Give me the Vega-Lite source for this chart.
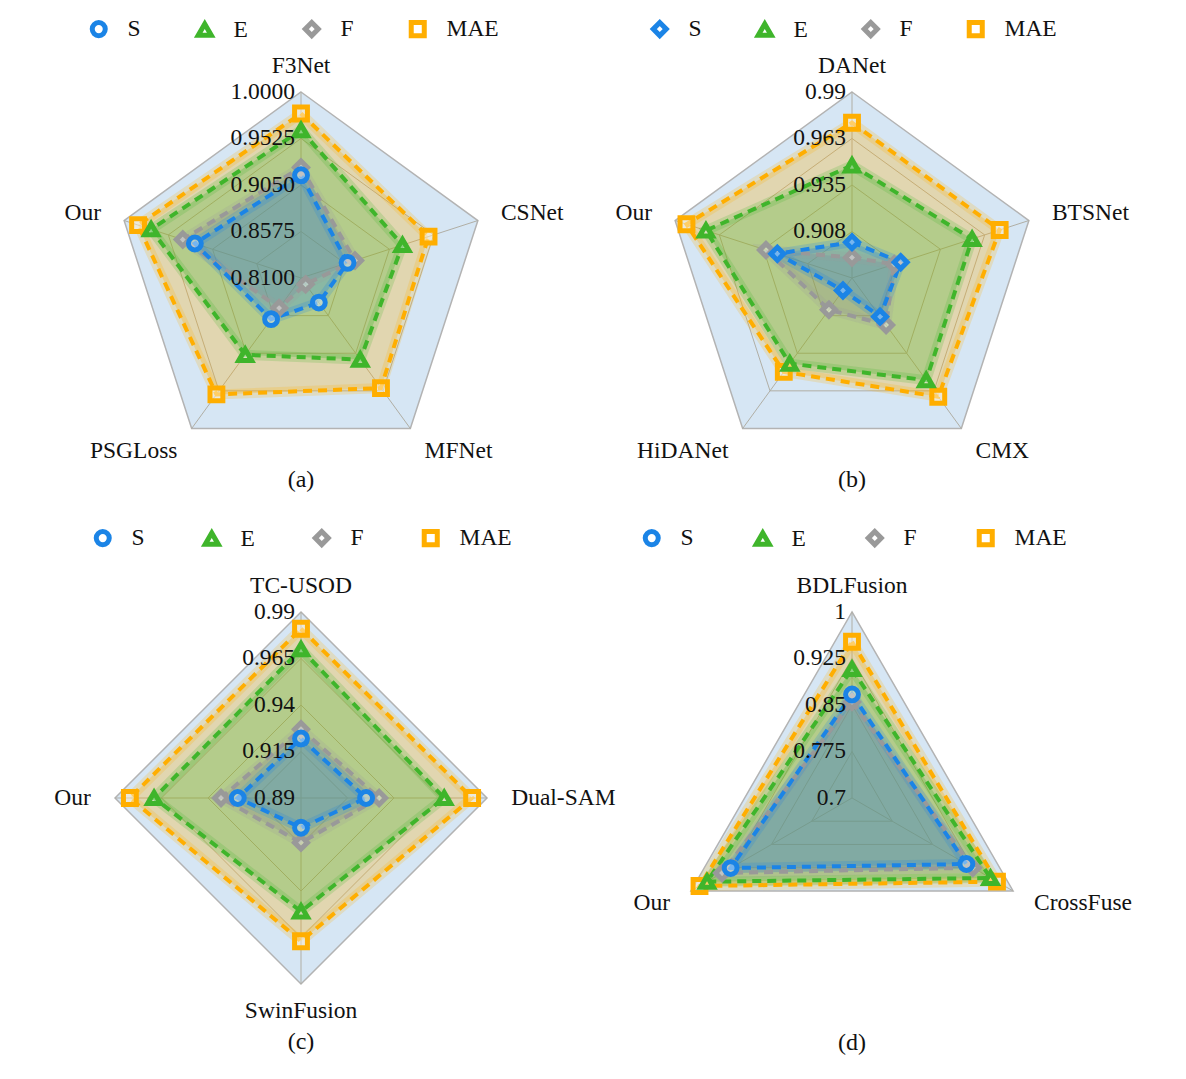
{
  "$schema": "https://vega.github.io/schema/vega-lite/v6.json",
  "padding": {"left": 25.5, "top": 16, "right": 0, "bottom": 0},
  "autosize": {"type": "pad"},
  "background": "white",
  "config": {
    "view": {"stroke": null},
    "title": {"font": "Liberation Serif", "fontSize": 24, "fontWeight": "normal", "color": "#111"},
    "legend": {"labelFont": "Liberation Serif", "labelFontSize": 23.5, "labelColor": "#111", "symbolStrokeWidth": 5, "symbolSize": 170, "labelOffset": 17}
  },
  "datasets": {
    "radar": [
      {"panel": "a", "axis": "F3Net", "i": 0, "S": 0.915, "E": 0.961, "F": 0.923, "MAE": 0.978},
      {"panel": "a", "axis": "CSNet", "i": 1, "S": 0.860, "E": 0.919, "F": 0.868, "MAE": 0.947},
      {"panel": "a", "axis": "MFNet", "i": 2, "S": 0.841, "E": 0.913, "F": 0.818, "MAE": 0.949},
      {"panel": "a", "axis": "PSGLoss", "i": 3, "S": 0.862, "E": 0.907, "F": 0.848, "MAE": 0.957},
      {"panel": "a", "axis": "Our", "i": 4, "S": 0.924, "E": 0.971, "F": 0.937, "MAE": 0.985},
      {"panel": "b", "axis": "DANet", "i": 0, "S": 0.902, "E": 0.947, "F": 0.893, "MAE": 0.972},
      {"panel": "b", "axis": "BTSNet", "i": 1, "S": 0.911, "E": 0.955, "F": 0.907, "MAE": 0.972},
      {"panel": "b", "axis": "CMX", "i": 2, "S": 0.909, "E": 0.955, "F": 0.915, "MAE": 0.967},
      {"panel": "b", "axis": "HiDANet", "i": 3, "S": 0.890, "E": 0.943, "F": 0.904, "MAE": 0.949},
      {"panel": "b", "axis": "Our", "i": 4, "S": 0.927, "E": 0.971, "F": 0.934, "MAE": 0.983},
      {"panel": "c", "axis": "TC-USOD", "i": 0, "S": 0.922, "E": 0.970, "F": 0.927, "MAE": 0.981},
      {"panel": "c", "axis": "Dual-SAM", "i": 1, "S": 0.925, "E": 0.967, "F": 0.932, "MAE": 0.982},
      {"panel": "c", "axis": "SwinFusion", "i": 2, "S": 0.906, "E": 0.951, "F": 0.914, "MAE": 0.967},
      {"panel": "c", "axis": "Our", "i": 3, "S": 0.924, "E": 0.969, "F": 0.933, "MAE": 0.982},
      {"panel": "d", "axis": "BDLFusion", "i": 0, "S": 0.867, "E": 0.908, "F": 0.855, "MAE": 0.952},
      {"panel": "d", "axis": "CrossFuse", "i": 1, "S": 0.913, "E": 0.958, "F": 0.925, "MAE": 0.970},
      {"panel": "d", "axis": "Our", "i": 2, "S": 0.926, "E": 0.970, "F": 0.942, "MAE": 0.984}
    ],
    "ticks": [
      {"panel": "a", "min": 0.81, "max": 1.0, "tick": [0.81, 0.8575, 0.905, 0.9525, 1.0], "label": ["0.8100", "0.8575", "0.9050", "0.9525", "1.0000"]},
      {"panel": "b", "min": 0.881, "max": 0.99, "tick": [0.881, 0.90825, 0.9355, 0.96275, 0.99], "label": ["", "0.908", "0.935", "0.963", "0.99"]},
      {"panel": "c", "min": 0.89, "max": 0.99, "tick": [0.89, 0.915, 0.94, 0.965, 0.99], "label": ["0.89", "0.915", "0.94", "0.965", "0.99"]},
      {"panel": "d", "min": 0.7, "max": 1.0, "tick": [0.7, 0.775, 0.85, 0.925, 1.0], "label": ["0.7", "0.775", "0.85", "0.925", "1"]}
    ]
  },
  "columns": 2,
  "spacing": {"row": 80, "column": 0},
  "bounds": "flush",
  "resolve": {"scale": {"color": "independent", "shape": "independent", "fill": "independent", "stroke": "independent"}},
  "concat": [
    {
      "width": 551, "height": 440,
      "title": {"text": "(a)", "orient": "bottom", "offset": 6},
      "data": {"name": "radar"},
      "transform": [
        {"filter": "datum.panel === 'a'"},
        {"joinaggregate": [{"op": "count", "as": "n"}]},
        {"lookup": "panel", "from": {"data": {"name": "ticks"}, "key": "panel", "fields": ["min", "max", "tick", "label"]}},
        {"calculate": "PI/2 - 2*PI*datum.i/datum.n", "as": "ang"}
      ],
      "layer": [
        {"transform": [{"calculate": "cos(datum.ang)", "as": "vx"}, {"calculate": "sin(datum.ang)", "as": "vy"}],
         "mark": {"type": "line", "interpolate": "linear-closed", "fill": "#d6e6f4", "stroke": "#b3b3b3", "strokeWidth": 1.5},
         "encoding": {"x": {"field": "vx", "type": "quantitative", "scale": {"domain": [-1.4812, 1.4812], "nice": false, "zero": false}, "axis": null}, "y": {"field": "vy", "type": "quantitative", "scale": {"domain": [-0.957, 1.4086], "nice": false, "zero": false}, "axis": null}, "order": {"field": "i"}}},
        {"transform": [{"flatten": ["tick", "label"]}, {"filter": "datum.tick > datum.min + 1e-9 && datum.tick < datum.max - 1e-9"}, {"calculate": "(datum.tick-datum.min)/(datum.max-datum.min)", "as": "r"}, {"calculate": "datum.r*cos(datum.ang)", "as": "vx"}, {"calculate": "datum.r*sin(datum.ang)", "as": "vy"}],
         "mark": {"type": "line", "interpolate": "linear-closed", "stroke": "#b0aea4", "strokeWidth": 1},
         "encoding": {"x": {"field": "vx", "type": "quantitative", "axis": null}, "y": {"field": "vy", "type": "quantitative", "axis": null}, "detail": {"field": "tick"}, "order": {"field": "i"}}},
        {"transform": [{"calculate": "cos(datum.ang)", "as": "vx"}, {"calculate": "sin(datum.ang)", "as": "vy"}],
         "mark": {"type": "rule", "stroke": "#b0aea4", "strokeWidth": 1},
         "encoding": {"x": {"field": "vx", "type": "quantitative", "axis": null}, "y": {"field": "vy", "type": "quantitative", "axis": null}, "x2": {"datum": 0}, "y2": {"datum": 0}}},
        {"transform": [{"fold": ["MAE", "E", "F", "S"], "as": ["series", "value"]}, {"calculate": "(datum.value-datum.min)/(datum.max-datum.min)", "as": "r"}, {"calculate": "datum.r*cos(datum.ang)", "as": "px"}, {"calculate": "datum.r*sin(datum.ang)", "as": "py"}],
         "layer": [
           {"mark": {"type": "line", "interpolate": "linear-closed", "strokeWidth": 0, "fillOpacity": 0.28},
            "encoding": {"x": {"field": "px", "type": "quantitative", "axis": null}, "y": {"field": "py", "type": "quantitative", "axis": null}, "fill": {"field": "series", "type": "nominal", "scale": {"domain": ["MAE", "F", "E", "S"], "range": ["#ffae00", "#8a8a8a", "#3fb52b", "#1b84e6"]}, "legend": null}, "detail": {"field": "series"}, "order": {"field": "i"}}},
           {"mark": {"type": "line", "interpolate": "linear-closed", "strokeWidth": 10, "strokeOpacity": 0.2},
            "encoding": {"x": {"field": "px", "type": "quantitative", "axis": null}, "y": {"field": "py", "type": "quantitative", "axis": null}, "stroke": {"field": "series", "type": "nominal", "scale": {"domain": ["MAE", "F", "E", "S"], "range": ["#ffae00", "#999999", "#3fb52b", "#1b84e6"]}, "legend": null}, "order": {"field": "i"}}},
           {"mark": {"type": "line", "interpolate": "linear-closed", "strokeWidth": 4, "strokeDash": [9, 6]},
            "encoding": {"x": {"field": "px", "type": "quantitative", "axis": null}, "y": {"field": "py", "type": "quantitative", "axis": null}, "stroke": {"field": "series", "type": "nominal", "legend": null}, "order": {"field": "i"}}},
           {"mark": {"type": "point", "filled": false, "fill": "#ffffff", "fillOpacity": 0.4, "strokeWidth": 5, "size": 165, "opacity": 1},
            "encoding": {"x": {"field": "px", "type": "quantitative", "axis": null}, "y": {"field": "py", "type": "quantitative", "axis": null},
              "color": {"field": "series", "type": "nominal", "scale": {"domain": ["S", "E", "F", "MAE"], "range": ["#1b84e6", "#3fb52b", "#999999", "#ffae00"]}, "legend": {"title": null, "orient": "none", "direction": "horizontal", "legendX": 61.5, "legendY": 1, "columnPadding": 47}},
              "shape": {"field": "series", "type": "nominal", "scale": {"domain": ["S", "E", "F", "MAE"], "range": ["circle", "triangle-up", "diamond", "square"]}, "legend": {"title": null, "orient": "none", "direction": "horizontal", "legendX": 61.5, "legendY": 1, "columnPadding": 47}}}}
         ]},
        {"transform": [{"calculate": "1.13*cos(datum.ang)", "as": "lx"}, {"calculate": "1.13*sin(datum.ang) + (sin(datum.ang) > 0.6 ? 0.01 : (sin(datum.ang) < -0.6 ? -0.015 : 0))", "as": "ly"}, {"filter": "cos(datum.ang) > 0.05"}],
         "mark": {"type": "text", "align": "left", "baseline": "middle", "font": "Liberation Serif", "fontSize": 23.5, "color": "#111"},
         "encoding": {"x": {"field": "lx", "type": "quantitative", "axis": null}, "y": {"field": "ly", "type": "quantitative", "axis": null}, "text": {"field": "axis"}}},
        {"transform": [{"calculate": "1.13*cos(datum.ang)", "as": "lx"}, {"calculate": "1.13*sin(datum.ang) + (sin(datum.ang) > 0.6 ? 0.01 : (sin(datum.ang) < -0.6 ? -0.015 : 0))", "as": "ly"}, {"filter": "cos(datum.ang) < -0.05"}],
         "mark": {"type": "text", "align": "right", "baseline": "middle", "font": "Liberation Serif", "fontSize": 23.5, "color": "#111"},
         "encoding": {"x": {"field": "lx", "type": "quantitative", "axis": null}, "y": {"field": "ly", "type": "quantitative", "axis": null}, "text": {"field": "axis"}}},
        {"transform": [{"calculate": "1.13*cos(datum.ang)", "as": "lx"}, {"calculate": "1.13*sin(datum.ang) + (sin(datum.ang) > 0.6 ? 0.01 : (sin(datum.ang) < -0.6 ? -0.015 : 0))", "as": "ly"}, {"filter": "abs(cos(datum.ang)) <= 0.05"}],
         "mark": {"type": "text", "align": "center", "baseline": "middle", "font": "Liberation Serif", "fontSize": 23.5, "color": "#111"},
         "encoding": {"x": {"field": "lx", "type": "quantitative", "axis": null}, "y": {"field": "ly", "type": "quantitative", "axis": null}, "text": {"field": "axis"}}},
        {"transform": [{"filter": "datum.i === 0"}, {"flatten": ["tick", "label"]}, {"filter": "datum.label !== ''"}, {"calculate": "(datum.tick-datum.min)/(datum.max-datum.min)", "as": "ty"}],
         "mark": {"type": "text", "align": "right", "baseline": "middle", "dx": -6, "font": "Liberation Serif", "fontSize": 23.5, "color": "#111"},
         "encoding": {"x": {"datum": 0, "type": "quantitative", "axis": null}, "y": {"field": "ty", "type": "quantitative", "axis": null}, "text": {"field": "label"}}}
      ]
    },
    {
      "width": 551, "height": 440,
      "title": {"text": "(b)", "orient": "bottom", "offset": 6},
      "data": {"name": "radar"},
      "transform": [
        {"filter": "datum.panel === 'b'"},
        {"joinaggregate": [{"op": "count", "as": "n"}]},
        {"lookup": "panel", "from": {"data": {"name": "ticks"}, "key": "panel", "fields": ["min", "max", "tick", "label"]}},
        {"calculate": "PI/2 - 2*PI*datum.i/datum.n", "as": "ang"}
      ],
      "layer": [
        {"transform": [{"calculate": "cos(datum.ang)", "as": "vx"}, {"calculate": "sin(datum.ang)", "as": "vy"}],
         "mark": {"type": "line", "interpolate": "linear-closed", "fill": "#d6e6f4", "stroke": "#b3b3b3", "strokeWidth": 1.5},
         "encoding": {"x": {"field": "vx", "type": "quantitative", "scale": {"domain": [-1.4812, 1.4812], "nice": false, "zero": false}, "axis": null}, "y": {"field": "vy", "type": "quantitative", "scale": {"domain": [-0.957, 1.4086], "nice": false, "zero": false}, "axis": null}, "order": {"field": "i"}}},
        {"transform": [{"flatten": ["tick", "label"]}, {"filter": "datum.tick > datum.min + 1e-9 && datum.tick < datum.max - 1e-9"}, {"calculate": "(datum.tick-datum.min)/(datum.max-datum.min)", "as": "r"}, {"calculate": "datum.r*cos(datum.ang)", "as": "vx"}, {"calculate": "datum.r*sin(datum.ang)", "as": "vy"}],
         "mark": {"type": "line", "interpolate": "linear-closed", "stroke": "#b0aea4", "strokeWidth": 1},
         "encoding": {"x": {"field": "vx", "type": "quantitative", "axis": null}, "y": {"field": "vy", "type": "quantitative", "axis": null}, "detail": {"field": "tick"}, "order": {"field": "i"}}},
        {"transform": [{"calculate": "cos(datum.ang)", "as": "vx"}, {"calculate": "sin(datum.ang)", "as": "vy"}],
         "mark": {"type": "rule", "stroke": "#b0aea4", "strokeWidth": 1},
         "encoding": {"x": {"field": "vx", "type": "quantitative", "axis": null}, "y": {"field": "vy", "type": "quantitative", "axis": null}, "x2": {"datum": 0}, "y2": {"datum": 0}}},
        {"transform": [{"fold": ["MAE", "E", "F", "S"], "as": ["series", "value"]}, {"calculate": "(datum.value-datum.min)/(datum.max-datum.min)", "as": "r"}, {"calculate": "datum.r*cos(datum.ang)", "as": "px"}, {"calculate": "datum.r*sin(datum.ang)", "as": "py"}],
         "layer": [
           {"mark": {"type": "line", "interpolate": "linear-closed", "strokeWidth": 0, "fillOpacity": 0.28},
            "encoding": {"x": {"field": "px", "type": "quantitative", "axis": null}, "y": {"field": "py", "type": "quantitative", "axis": null}, "fill": {"field": "series", "type": "nominal", "scale": {"domain": ["MAE", "F", "E", "S"], "range": ["#ffae00", "#8a8a8a", "#3fb52b", "#1b84e6"]}, "legend": null}, "detail": {"field": "series"}, "order": {"field": "i"}}},
           {"mark": {"type": "line", "interpolate": "linear-closed", "strokeWidth": 10, "strokeOpacity": 0.2},
            "encoding": {"x": {"field": "px", "type": "quantitative", "axis": null}, "y": {"field": "py", "type": "quantitative", "axis": null}, "stroke": {"field": "series", "type": "nominal", "scale": {"domain": ["MAE", "F", "E", "S"], "range": ["#ffae00", "#999999", "#3fb52b", "#1b84e6"]}, "legend": null}, "order": {"field": "i"}}},
           {"mark": {"type": "line", "interpolate": "linear-closed", "strokeWidth": 4, "strokeDash": [9, 6]},
            "encoding": {"x": {"field": "px", "type": "quantitative", "axis": null}, "y": {"field": "py", "type": "quantitative", "axis": null}, "stroke": {"field": "series", "type": "nominal", "legend": null}, "order": {"field": "i"}}},
           {"mark": {"type": "point", "filled": false, "fill": "#ffffff", "fillOpacity": 0.4, "strokeWidth": 5, "size": 165, "opacity": 1},
            "encoding": {"x": {"field": "px", "type": "quantitative", "axis": null}, "y": {"field": "py", "type": "quantitative", "axis": null},
              "color": {"field": "series", "type": "nominal", "scale": {"domain": ["S", "E", "F", "MAE"], "range": ["#1b84e6", "#3fb52b", "#999999", "#ffae00"]}, "legend": {"title": null, "orient": "none", "direction": "horizontal", "legendX": 71.5, "legendY": 1, "columnPadding": 46}},
              "shape": {"field": "series", "type": "nominal", "scale": {"domain": ["S", "E", "F", "MAE"], "range": ["diamond", "triangle-up", "diamond", "square"]}, "legend": {"title": null, "orient": "none", "direction": "horizontal", "legendX": 71.5, "legendY": 1, "columnPadding": 46}}}}
         ]},
        {"transform": [{"calculate": "1.13*cos(datum.ang)", "as": "lx"}, {"calculate": "1.13*sin(datum.ang) + (sin(datum.ang) > 0.6 ? 0.01 : (sin(datum.ang) < -0.6 ? -0.015 : 0))", "as": "ly"}, {"filter": "cos(datum.ang) > 0.05"}],
         "mark": {"type": "text", "align": "left", "baseline": "middle", "font": "Liberation Serif", "fontSize": 23.5, "color": "#111"},
         "encoding": {"x": {"field": "lx", "type": "quantitative", "axis": null}, "y": {"field": "ly", "type": "quantitative", "axis": null}, "text": {"field": "axis"}}},
        {"transform": [{"calculate": "1.13*cos(datum.ang)", "as": "lx"}, {"calculate": "1.13*sin(datum.ang) + (sin(datum.ang) > 0.6 ? 0.01 : (sin(datum.ang) < -0.6 ? -0.015 : 0))", "as": "ly"}, {"filter": "cos(datum.ang) < -0.05"}],
         "mark": {"type": "text", "align": "right", "baseline": "middle", "font": "Liberation Serif", "fontSize": 23.5, "color": "#111"},
         "encoding": {"x": {"field": "lx", "type": "quantitative", "axis": null}, "y": {"field": "ly", "type": "quantitative", "axis": null}, "text": {"field": "axis"}}},
        {"transform": [{"calculate": "1.13*cos(datum.ang)", "as": "lx"}, {"calculate": "1.13*sin(datum.ang) + (sin(datum.ang) > 0.6 ? 0.01 : (sin(datum.ang) < -0.6 ? -0.015 : 0))", "as": "ly"}, {"filter": "abs(cos(datum.ang)) <= 0.05"}],
         "mark": {"type": "text", "align": "center", "baseline": "middle", "font": "Liberation Serif", "fontSize": 23.5, "color": "#111"},
         "encoding": {"x": {"field": "lx", "type": "quantitative", "axis": null}, "y": {"field": "ly", "type": "quantitative", "axis": null}, "text": {"field": "axis"}}},
        {"transform": [{"filter": "datum.i === 0"}, {"flatten": ["tick", "label"]}, {"filter": "datum.label !== ''"}, {"calculate": "(datum.tick-datum.min)/(datum.max-datum.min)", "as": "ty"}],
         "mark": {"type": "text", "align": "right", "baseline": "middle", "dx": -6, "font": "Liberation Serif", "fontSize": 23.5, "color": "#111"},
         "encoding": {"x": {"datum": 0, "type": "quantitative", "axis": null}, "y": {"field": "ty", "type": "quantitative", "axis": null}, "text": {"field": "label"}}}
      ]
    },
    {
      "width": 551, "height": 440,
      "title": {"text": "(c)", "orient": "bottom", "offset": 8},
      "data": {"name": "radar"},
      "transform": [
        {"filter": "datum.panel === 'c'"},
        {"joinaggregate": [{"op": "count", "as": "n"}]},
        {"lookup": "panel", "from": {"data": {"name": "ticks"}, "key": "panel", "fields": ["min", "max", "tick", "label"]}},
        {"calculate": "PI/2 - 2*PI*datum.i/datum.n", "as": "ang"}
      ],
      "layer": [
        {"transform": [{"calculate": "cos(datum.ang)", "as": "vx"}, {"calculate": "sin(datum.ang)", "as": "vy"}],
         "mark": {"type": "line", "interpolate": "linear-closed", "fill": "#d6e6f4", "stroke": "#b3b3b3", "strokeWidth": 1.5},
         "encoding": {"x": {"field": "vx", "type": "quantitative", "scale": {"domain": [-1.4812, 1.4812], "nice": false, "zero": false}, "axis": null}, "y": {"field": "vy", "type": "quantitative", "scale": {"domain": [-0.957, 1.4086], "nice": false, "zero": false}, "axis": null}, "order": {"field": "i"}}},
        {"transform": [{"flatten": ["tick", "label"]}, {"filter": "datum.tick > datum.min + 1e-9 && datum.tick < datum.max - 1e-9"}, {"calculate": "(datum.tick-datum.min)/(datum.max-datum.min)", "as": "r"}, {"calculate": "datum.r*cos(datum.ang)", "as": "vx"}, {"calculate": "datum.r*sin(datum.ang)", "as": "vy"}],
         "mark": {"type": "line", "interpolate": "linear-closed", "stroke": "#b0aea4", "strokeWidth": 1},
         "encoding": {"x": {"field": "vx", "type": "quantitative", "axis": null}, "y": {"field": "vy", "type": "quantitative", "axis": null}, "detail": {"field": "tick"}, "order": {"field": "i"}}},
        {"transform": [{"calculate": "cos(datum.ang)", "as": "vx"}, {"calculate": "sin(datum.ang)", "as": "vy"}],
         "mark": {"type": "rule", "stroke": "#b0aea4", "strokeWidth": 1},
         "encoding": {"x": {"field": "vx", "type": "quantitative", "axis": null}, "y": {"field": "vy", "type": "quantitative", "axis": null}, "x2": {"datum": 0}, "y2": {"datum": 0}}},
        {"transform": [{"fold": ["MAE", "E", "F", "S"], "as": ["series", "value"]}, {"calculate": "(datum.value-datum.min)/(datum.max-datum.min)", "as": "r"}, {"calculate": "datum.r*cos(datum.ang)", "as": "px"}, {"calculate": "datum.r*sin(datum.ang)", "as": "py"}],
         "layer": [
           {"mark": {"type": "line", "interpolate": "linear-closed", "strokeWidth": 0, "fillOpacity": 0.28},
            "encoding": {"x": {"field": "px", "type": "quantitative", "axis": null}, "y": {"field": "py", "type": "quantitative", "axis": null}, "fill": {"field": "series", "type": "nominal", "scale": {"domain": ["MAE", "F", "E", "S"], "range": ["#ffae00", "#8a8a8a", "#3fb52b", "#1b84e6"]}, "legend": null}, "detail": {"field": "series"}, "order": {"field": "i"}}},
           {"mark": {"type": "line", "interpolate": "linear-closed", "strokeWidth": 10, "strokeOpacity": 0.2},
            "encoding": {"x": {"field": "px", "type": "quantitative", "axis": null}, "y": {"field": "py", "type": "quantitative", "axis": null}, "stroke": {"field": "series", "type": "nominal", "scale": {"domain": ["MAE", "F", "E", "S"], "range": ["#ffae00", "#999999", "#3fb52b", "#1b84e6"]}, "legend": null}, "order": {"field": "i"}}},
           {"mark": {"type": "line", "interpolate": "linear-closed", "strokeWidth": 4, "strokeDash": [9, 6]},
            "encoding": {"x": {"field": "px", "type": "quantitative", "axis": null}, "y": {"field": "py", "type": "quantitative", "axis": null}, "stroke": {"field": "series", "type": "nominal", "legend": null}, "order": {"field": "i"}}},
           {"mark": {"type": "point", "filled": false, "fill": "#ffffff", "fillOpacity": 0.4, "strokeWidth": 5, "size": 165, "opacity": 1},
            "encoding": {"x": {"field": "px", "type": "quantitative", "axis": null}, "y": {"field": "py", "type": "quantitative", "axis": null},
              "color": {"field": "series", "type": "nominal", "scale": {"domain": ["S", "E", "F", "MAE"], "range": ["#1b84e6", "#3fb52b", "#999999", "#ffae00"]}, "legend": {"title": null, "orient": "none", "direction": "horizontal", "legendX": 65.5, "legendY": -10, "columnPadding": 50}},
              "shape": {"field": "series", "type": "nominal", "scale": {"domain": ["S", "E", "F", "MAE"], "range": ["circle", "triangle-up", "diamond", "square"]}, "legend": {"title": null, "orient": "none", "direction": "horizontal", "legendX": 65.5, "legendY": -10, "columnPadding": 50}}}}
         ]},
        {"transform": [{"calculate": "1.13*cos(datum.ang)", "as": "lx"}, {"calculate": "1.13*sin(datum.ang) + (sin(datum.ang) > 0.6 ? 0.01 : (sin(datum.ang) < -0.6 ? -0.015 : 0))", "as": "ly"}, {"filter": "cos(datum.ang) > 0.05"}],
         "mark": {"type": "text", "align": "left", "baseline": "middle", "font": "Liberation Serif", "fontSize": 23.5, "color": "#111"},
         "encoding": {"x": {"field": "lx", "type": "quantitative", "axis": null}, "y": {"field": "ly", "type": "quantitative", "axis": null}, "text": {"field": "axis"}}},
        {"transform": [{"calculate": "1.13*cos(datum.ang)", "as": "lx"}, {"calculate": "1.13*sin(datum.ang) + (sin(datum.ang) > 0.6 ? 0.01 : (sin(datum.ang) < -0.6 ? -0.015 : 0))", "as": "ly"}, {"filter": "cos(datum.ang) < -0.05"}],
         "mark": {"type": "text", "align": "right", "baseline": "middle", "font": "Liberation Serif", "fontSize": 23.5, "color": "#111"},
         "encoding": {"x": {"field": "lx", "type": "quantitative", "axis": null}, "y": {"field": "ly", "type": "quantitative", "axis": null}, "text": {"field": "axis"}}},
        {"transform": [{"calculate": "1.13*cos(datum.ang)", "as": "lx"}, {"calculate": "1.13*sin(datum.ang) + (sin(datum.ang) > 0.6 ? 0.01 : (sin(datum.ang) < -0.6 ? -0.015 : 0))", "as": "ly"}, {"filter": "abs(cos(datum.ang)) <= 0.05"}],
         "mark": {"type": "text", "align": "center", "baseline": "middle", "font": "Liberation Serif", "fontSize": 23.5, "color": "#111"},
         "encoding": {"x": {"field": "lx", "type": "quantitative", "axis": null}, "y": {"field": "ly", "type": "quantitative", "axis": null}, "text": {"field": "axis"}}},
        {"transform": [{"filter": "datum.i === 0"}, {"flatten": ["tick", "label"]}, {"filter": "datum.label !== ''"}, {"calculate": "(datum.tick-datum.min)/(datum.max-datum.min)", "as": "ty"}],
         "mark": {"type": "text", "align": "right", "baseline": "middle", "dx": -6, "font": "Liberation Serif", "fontSize": 23.5, "color": "#111"},
         "encoding": {"x": {"datum": 0, "type": "quantitative", "axis": null}, "y": {"field": "ty", "type": "quantitative", "axis": null}, "text": {"field": "label"}}}
      ]
    },
    {
      "width": 551, "height": 440,
      "title": {"text": "(d)", "orient": "bottom", "offset": 55},
      "data": {"name": "radar"},
      "transform": [
        {"filter": "datum.panel === 'd'"},
        {"joinaggregate": [{"op": "count", "as": "n"}]},
        {"lookup": "panel", "from": {"data": {"name": "ticks"}, "key": "panel", "fields": ["min", "max", "tick", "label"]}},
        {"calculate": "PI/2 - 2*PI*datum.i/datum.n", "as": "ang"}
      ],
      "layer": [
        {"transform": [{"calculate": "cos(datum.ang)", "as": "vx"}, {"calculate": "sin(datum.ang)", "as": "vy"}],
         "mark": {"type": "line", "interpolate": "linear-closed", "fill": "#d6e6f4", "stroke": "#b3b3b3", "strokeWidth": 1.5},
         "encoding": {"x": {"field": "vx", "type": "quantitative", "scale": {"domain": [-1.4812, 1.4812], "nice": false, "zero": false}, "axis": null}, "y": {"field": "vy", "type": "quantitative", "scale": {"domain": [-0.957, 1.4086], "nice": false, "zero": false}, "axis": null}, "order": {"field": "i"}}},
        {"transform": [{"flatten": ["tick", "label"]}, {"filter": "datum.tick > datum.min + 1e-9 && datum.tick < datum.max - 1e-9"}, {"calculate": "(datum.tick-datum.min)/(datum.max-datum.min)", "as": "r"}, {"calculate": "datum.r*cos(datum.ang)", "as": "vx"}, {"calculate": "datum.r*sin(datum.ang)", "as": "vy"}],
         "mark": {"type": "line", "interpolate": "linear-closed", "stroke": "#b0aea4", "strokeWidth": 1},
         "encoding": {"x": {"field": "vx", "type": "quantitative", "axis": null}, "y": {"field": "vy", "type": "quantitative", "axis": null}, "detail": {"field": "tick"}, "order": {"field": "i"}}},
        {"transform": [{"calculate": "cos(datum.ang)", "as": "vx"}, {"calculate": "sin(datum.ang)", "as": "vy"}],
         "mark": {"type": "rule", "stroke": "#b0aea4", "strokeWidth": 1},
         "encoding": {"x": {"field": "vx", "type": "quantitative", "axis": null}, "y": {"field": "vy", "type": "quantitative", "axis": null}, "x2": {"datum": 0}, "y2": {"datum": 0}}},
        {"transform": [{"fold": ["MAE", "E", "F", "S"], "as": ["series", "value"]}, {"calculate": "(datum.value-datum.min)/(datum.max-datum.min)", "as": "r"}, {"calculate": "datum.r*cos(datum.ang)", "as": "px"}, {"calculate": "datum.r*sin(datum.ang)", "as": "py"}],
         "layer": [
           {"mark": {"type": "line", "interpolate": "linear-closed", "strokeWidth": 0, "fillOpacity": 0.28},
            "encoding": {"x": {"field": "px", "type": "quantitative", "axis": null}, "y": {"field": "py", "type": "quantitative", "axis": null}, "fill": {"field": "series", "type": "nominal", "scale": {"domain": ["MAE", "F", "E", "S"], "range": ["#ffae00", "#8a8a8a", "#3fb52b", "#1b84e6"]}, "legend": null}, "detail": {"field": "series"}, "order": {"field": "i"}}},
           {"mark": {"type": "line", "interpolate": "linear-closed", "strokeWidth": 10, "strokeOpacity": 0.2},
            "encoding": {"x": {"field": "px", "type": "quantitative", "axis": null}, "y": {"field": "py", "type": "quantitative", "axis": null}, "stroke": {"field": "series", "type": "nominal", "scale": {"domain": ["MAE", "F", "E", "S"], "range": ["#ffae00", "#999999", "#3fb52b", "#1b84e6"]}, "legend": null}, "order": {"field": "i"}}},
           {"mark": {"type": "line", "interpolate": "linear-closed", "strokeWidth": 4, "strokeDash": [9, 6]},
            "encoding": {"x": {"field": "px", "type": "quantitative", "axis": null}, "y": {"field": "py", "type": "quantitative", "axis": null}, "stroke": {"field": "series", "type": "nominal", "legend": null}, "order": {"field": "i"}}},
           {"mark": {"type": "point", "filled": false, "fill": "#ffffff", "fillOpacity": 0.4, "strokeWidth": 5, "size": 165, "opacity": 1},
            "encoding": {"x": {"field": "px", "type": "quantitative", "axis": null}, "y": {"field": "py", "type": "quantitative", "axis": null},
              "color": {"field": "series", "type": "nominal", "scale": {"domain": ["S", "E", "F", "MAE"], "range": ["#1b84e6", "#3fb52b", "#999999", "#ffae00"]}, "legend": {"title": null, "orient": "none", "direction": "horizontal", "legendX": 63.5, "legendY": -10, "columnPadding": 52}},
              "shape": {"field": "series", "type": "nominal", "scale": {"domain": ["S", "E", "F", "MAE"], "range": ["circle", "triangle-up", "diamond", "square"]}, "legend": {"title": null, "orient": "none", "direction": "horizontal", "legendX": 63.5, "legendY": -10, "columnPadding": 52}}}}
         ]},
        {"transform": [{"calculate": "1.13*cos(datum.ang)", "as": "lx"}, {"calculate": "1.13*sin(datum.ang) + (sin(datum.ang) > 0.6 ? 0.01 : (sin(datum.ang) < -0.6 ? -0.015 : 0))", "as": "ly"}, {"filter": "cos(datum.ang) > 0.05"}],
         "mark": {"type": "text", "align": "left", "baseline": "middle", "font": "Liberation Serif", "fontSize": 23.5, "color": "#111"},
         "encoding": {"x": {"field": "lx", "type": "quantitative", "axis": null}, "y": {"field": "ly", "type": "quantitative", "axis": null}, "text": {"field": "axis"}}},
        {"transform": [{"calculate": "1.13*cos(datum.ang)", "as": "lx"}, {"calculate": "1.13*sin(datum.ang) + (sin(datum.ang) > 0.6 ? 0.01 : (sin(datum.ang) < -0.6 ? -0.015 : 0))", "as": "ly"}, {"filter": "cos(datum.ang) < -0.05"}],
         "mark": {"type": "text", "align": "right", "baseline": "middle", "font": "Liberation Serif", "fontSize": 23.5, "color": "#111"},
         "encoding": {"x": {"field": "lx", "type": "quantitative", "axis": null}, "y": {"field": "ly", "type": "quantitative", "axis": null}, "text": {"field": "axis"}}},
        {"transform": [{"calculate": "1.13*cos(datum.ang)", "as": "lx"}, {"calculate": "1.13*sin(datum.ang) + (sin(datum.ang) > 0.6 ? 0.01 : (sin(datum.ang) < -0.6 ? -0.015 : 0))", "as": "ly"}, {"filter": "abs(cos(datum.ang)) <= 0.05"}],
         "mark": {"type": "text", "align": "center", "baseline": "middle", "font": "Liberation Serif", "fontSize": 23.5, "color": "#111"},
         "encoding": {"x": {"field": "lx", "type": "quantitative", "axis": null}, "y": {"field": "ly", "type": "quantitative", "axis": null}, "text": {"field": "axis"}}},
        {"transform": [{"filter": "datum.i === 0"}, {"flatten": ["tick", "label"]}, {"filter": "datum.label !== ''"}, {"calculate": "(datum.tick-datum.min)/(datum.max-datum.min)", "as": "ty"}],
         "mark": {"type": "text", "align": "right", "baseline": "middle", "dx": -6, "font": "Liberation Serif", "fontSize": 23.5, "color": "#111"},
         "encoding": {"x": {"datum": 0, "type": "quantitative", "axis": null}, "y": {"field": "ty", "type": "quantitative", "axis": null}, "text": {"field": "label"}}}
      ]
    }
  ]
}
